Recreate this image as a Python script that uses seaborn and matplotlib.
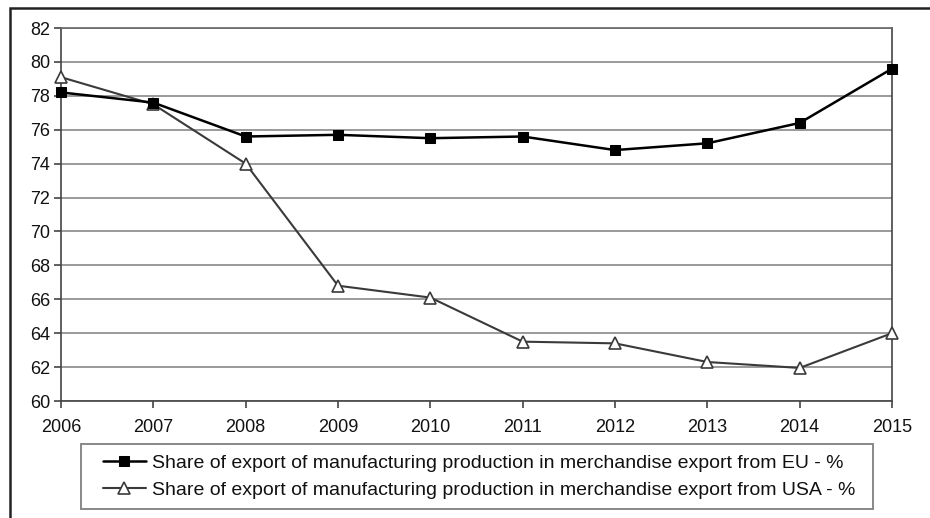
import matplotlib
matplotlib.use("Agg")
import matplotlib.pyplot as plt
import seaborn as sns
import pandas as pd
from matplotlib.patches import Rectangle

years = [2006, 2007, 2008, 2009, 2010, 2011, 2012, 2013, 2014, 2015]
eu_share = [78.2, 77.6, 75.6, 75.7, 75.5, 75.6, 74.8, 75.2, 76.4, 79.6]
usa_share = [79.1, 77.5, 74.0, 66.8, 66.1, 63.5, 63.4, 62.3, 61.95, 64.0]
eu_label = "Share of export of manufacturing production in merchandise export from EU - %"
usa_label = "Share of export of manufacturing production in merchandise export from USA - %"
y_ticks = list(range(60, 83, 2))

sns.set_theme(style="white")
plt.rcParams['font.family'] = ['Liberation Sans', 'DejaVu Sans']

W, H = 930, 518
fig = plt.figure(figsize=(W/100, H/100), dpi=100)
ax = fig.add_axes([61/W, 1-401/H, (892-61)/W, (401-28)/H])

df_eu = pd.DataFrame({"year": years, "value": eu_share})
df_us = pd.DataFrame({"year": years, "value": usa_share})

sns.lineplot(data=df_eu, x="year", y="value", ax=ax, color="black", linewidth=1.8,
             marker="s", markersize=7.5, markerfacecolor="black", markeredgecolor="black",
             label=eu_label, zorder=4, clip_on=False)
sns.lineplot(data=df_us, x="year", y="value", ax=ax, color="#3a3a3a", linewidth=1.5,
             marker="^", markersize=9, markerfacecolor="white", markeredgecolor="#3a3a3a",
             markeredgewidth=1.2, label=usa_label, zorder=3, clip_on=False)

ax.set_xlim(2006, 2015)
ax.set_ylim(60, 82)
ax.set_yticks(y_ticks)
ax.set_xticks(years)
ax.set_xticklabels([str(y) for y in years])
ax.set_xlabel("")
ax.set_ylabel("")
ax.yaxis.grid(True, color="#9a9a9a", linewidth=1.4)
ax.xaxis.grid(False)
ax.set_axisbelow(True)
for s in ["left", "bottom", "right", "top"]:
    ax.spines[s].set_visible(True)
    ax.spines[s].set_color("#444444")
    ax.spines[s].set_linewidth(1.2)
ax.spines["top"].set_color("#666666")
ax.tick_params(axis="both", which="both", direction="out", length=5, width=1.2,
               color="#444444", labelsize=13, labelcolor="#111111")
ax.tick_params(axis="x", pad=8, bottom=True)
ax.tick_params(axis="y", pad=3, left=True)

# legend box drawn separately, legend content frameless
box = Rectangle((81/W, 1-509/H), (873-81)/W, (509-444)/H, transform=fig.transFigure,
                fill=True, facecolor="white", edgecolor="#888888", linewidth=1.4,
                clip_on=False, zorder=4.5)
ax.add_artist(box)
leg = ax.legend(loc="upper left", bbox_to_anchor=(103/W, 1-454/H),
                bbox_transform=fig.transFigure, fontsize=14, frameon=False,
                handlelength=2.2, handletextpad=0.3, borderaxespad=0, borderpad=0,
                labelspacing=0.5, markerscale=1.0)
leg.set_zorder(6)
for t in leg.get_texts():
    t.set_color("#111111")

fig.patches.append(Rectangle((10/W, -0.05), 1.0, 1-8/H+0.05, transform=fig.transFigure,
                             fill=False, edgecolor="#222222", linewidth=1.8))

fig.savefig("out.png", dpi=100)
